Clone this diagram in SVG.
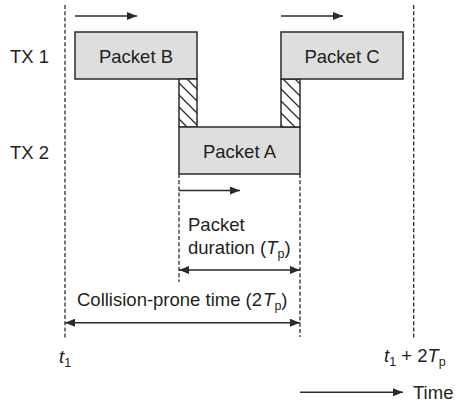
<svg xmlns="http://www.w3.org/2000/svg" width="456" height="404" viewBox="0 0 456 404">
  <defs>
    <style>
      text { font-family: "Liberation Sans", Arial, sans-serif; font-size: 18.5px; fill: #231f20; }
      .sub { font-size: 12.5px; }
      .it { font-style: italic; }
      .box { fill: #dedede; stroke: #2b2b2b; stroke-width: 1.5; }
      .hatch { fill: url(#hatch); stroke: #2b2b2b; stroke-width: 1.5; }
      .dash { fill: none; stroke: #2b2b2b; stroke-width: 1.3; stroke-dasharray: 4 2.2; }
      .arr { fill: none; stroke: #2b2b2b; stroke-width: 1.5; }
    </style>
    <pattern id="hatch" patternUnits="userSpaceOnUse" width="12" height="12">
      <rect width="12" height="12" fill="#ffffff"/>
      <path d="M0,0 L12,12 M-2,10 L2,14 M10,-2 L14,2" stroke="#2b2b2b" stroke-width="1.3"/>
    </pattern>
    <marker id="ah" viewBox="0 0 10 8" refX="10" refY="4" markerWidth="10" markerHeight="8" markerUnits="userSpaceOnUse" orient="auto-start-reverse">
      <path d="M0,0 L10,4 L0,8 Z" fill="#2b2b2b"/>
    </marker>
  </defs>

  <g id="connectors">
    <line class="dash" x1="65" y1="5" x2="65" y2="338"/>
    <line class="dash" x1="413.7" y1="5" x2="413.7" y2="338"/>
    <line class="dash" x1="179" y1="174" x2="179" y2="282"/>
    <line class="dash" x1="300" y1="174" x2="300" y2="337"/>
    <line class="arr" x1="75" y1="16" x2="137" y2="16" marker-end="url(#ah)"/>
    <line class="arr" x1="281" y1="16" x2="343" y2="16" marker-end="url(#ah)"/>
    <line class="arr" x1="179" y1="190.5" x2="240" y2="190.5" marker-end="url(#ah)"/>
    <line class="arr" x1="179" y1="270" x2="300" y2="270" marker-start="url(#ah)" marker-end="url(#ah)"/>
    <line class="arr" x1="65" y1="322.7" x2="300" y2="322.7" marker-start="url(#ah)" marker-end="url(#ah)"/>
    <line class="arr" x1="300" y1="392.3" x2="403" y2="392.3" marker-end="url(#ah)"/>
  </g>

  <g id="tx1-label"><text x="10" y="63">TX 1</text></g>
  <g id="tx2-label"><text x="10" y="159">TX 2</text></g>

  <g id="packet-b">
    <rect class="box" x="75" y="32" width="122" height="47"/>
    <text x="136" y="62.7" text-anchor="middle">Packet B</text>
  </g>
  <g id="hatch-b">
    <rect class="hatch" x="179" y="79" width="18" height="48"/>
  </g>
  <g id="packet-a">
    <rect class="box" x="179" y="127" width="121" height="47"/>
    <text x="239.5" y="158.3" text-anchor="middle">Packet A</text>
  </g>
  <g id="hatch-c">
    <rect class="hatch" x="281" y="79" width="19" height="48"/>
  </g>
  <g id="packet-c">
    <rect class="box" x="281" y="32" width="122" height="47"/>
    <text x="342" y="62.5" text-anchor="middle">Packet C</text>
  </g>

  <g id="packet-duration-label">
    <text x="188" y="231">Packet</text>
    <text x="188" y="254">duration (<tspan class="it">T</tspan><tspan class="sub" dy="4">p</tspan><tspan dy="-4">)</tspan></text>
  </g>
  <g id="collision-label">
    <text x="77" y="306">Collision-prone time (2<tspan class="it" dx="1">T</tspan><tspan class="sub" dy="4">p</tspan><tspan dy="-4">)</tspan></text>
  </g>
  <g id="t1-label">
    <text x="59" y="363"><tspan class="it">t</tspan><tspan class="sub" dy="4">1</tspan></text>
  </g>
  <g id="t1-2tp-label">
    <text x="384" y="362"><tspan class="it">t</tspan><tspan class="sub" dy="4">1</tspan><tspan dy="-4"> + 2</tspan><tspan class="it">T</tspan><tspan class="sub" dy="4">p</tspan></text>
  </g>
  <g id="time-label">
    <text x="413" y="399">Time</text>
  </g>
</svg>
